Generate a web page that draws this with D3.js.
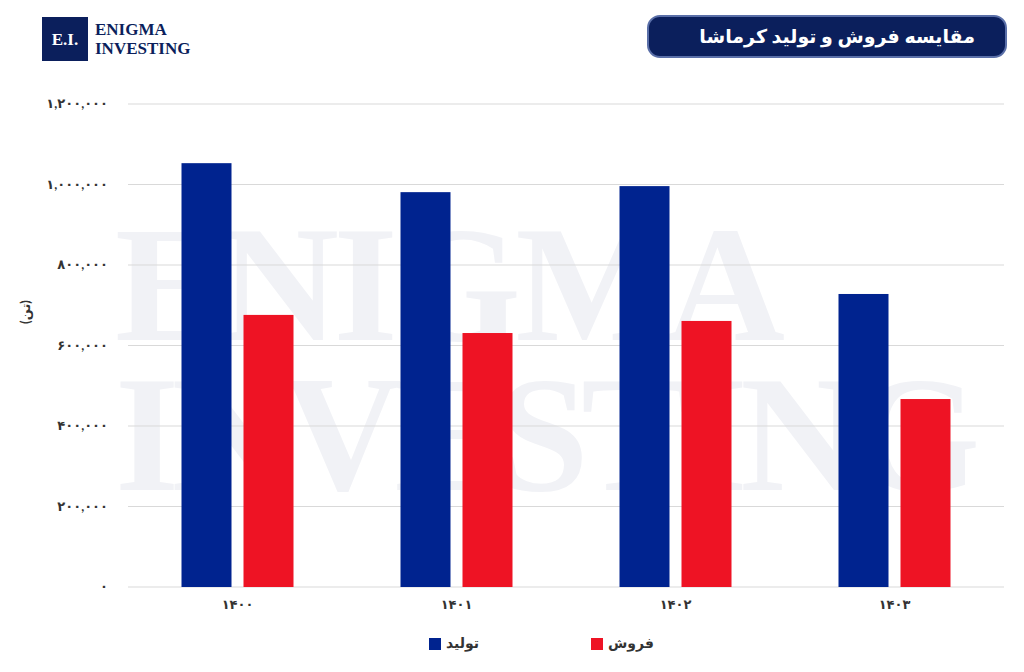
<!DOCTYPE html>
<html><head><meta charset="utf-8">
<script src="https://cdn.jsdelivr.net/npm/d3@7"></script>
<style>body{margin:0;background:#fff}</style>
</head><body>
<script>
const years = ['۱۴۰۰', '۱۴۰۱', '۱۴۰۲', '۱۴۰۳']
const production = [1053000, 981000, 996000, 728000]
const sales = [676000, 631000, 661000, 467000]
const yTicks = [0, 200000, 400000, 600000, 800000, 1000000, 1200000]
const seriesNames = ['تولید', 'فروش']
const colors = ['#00238f', '#ee1324']

const fa = n => d3.format(',')(n).replace(/\d/g, d => '۰۱۲۳۴۵۶۷۸۹'[d])

const W = 1024, H = 672
const svg = d3.select('body').append('svg').attr('width', W).attr('height', H)
  .style('font-family', 'Lato, "DejaVu Sans", sans-serif')

// watermark
const wm = svg.append('g').attr('fill', '#f1f2f6').attr('font-family', '"Liberation Serif", serif').attr('font-weight', 'bold')
wm.append('text').attr('x', 115).attr('y', 340).attr('font-size', 165).attr('textLength', 670).text('ENIGMA')
wm.append('text').attr('x', 115).attr('y', 490).attr('font-size', 165).attr('textLength', 865).text('INVESTING')

const x = d3.scaleBand().domain(years).range([128, 1004])
const y = d3.scaleLinear().domain([0, 1200000]).range([587, 104])

svg.append('g').selectAll('line').data(yTicks).join('line')
  .attr('x1', 128).attr('x2', 1004).attr('y1', d => y(d)).attr('y2', d => y(d))
  .attr('stroke', '#d9d9d9')

svg.append('g').selectAll('text').data(yTicks).join('text')
  .attr('x', 108).attr('y', d => y(d) + 4).attr('text-anchor', 'end')
  .attr('font-size', 13).attr('font-weight', 'bold').attr('fill', '#333').text(fa)

svg.append('text').attr('transform', 'translate(30,312) rotate(-90)').attr('text-anchor', 'middle')
  .attr('font-size', 13).attr('font-weight', 'bold').attr('fill', '#333').text('(تن)')

const bw = 50, gap = 12
const groups = svg.append('g').selectAll('g').data(years).join('g')
  .attr('transform', d => `translate(${x(d) + x.bandwidth() / 2},0)`)
groups.append('rect').attr('x', -bw - gap / 2).attr('width', bw)
  .attr('y', (d, i) => y(production[i])).attr('height', (d, i) => y(0) - y(production[i])).attr('fill', colors[0])
groups.append('rect').attr('x', gap / 2).attr('width', bw)
  .attr('y', (d, i) => y(sales[i])).attr('height', (d, i) => y(0) - y(sales[i])).attr('fill', colors[1])
groups.append('text').attr('y', 609).attr('text-anchor', 'middle').attr('font-size', 13)
  .attr('font-weight', 'bold').attr('fill', '#333').text(d => d)

// legend
const lg = svg.append('g')
seriesNames.forEach((n, i) => {
  const lx = 429 + i * 162
  lg.append('rect').attr('x', lx).attr('y', 638).attr('width', 12).attr('height', 12).attr('fill', colors[i])
  lg.append('text').attr('x', lx + 17).attr('y', 648).attr('text-anchor', 'start').attr('direction', 'ltr')
    .attr('font-size', 14).attr('font-weight', 'bold').attr('fill', '#333').text(n)
})

// title
svg.append('rect').attr('x', 648).attr('y', 16).attr('width', 358).attr('height', 41).attr('rx', 12)
  .attr('fill', '#0b1f5c').attr('stroke', '#5a6fa8').attr('stroke-width', 2)
svg.append('text').attr('x', 975).attr('y', 43).attr('text-anchor', 'end').attr('font-size', 19)
  .attr('font-weight', 'bold').attr('fill', '#fff').text('مقایسه فروش و تولید کرماشا')

// logo
svg.append('rect').attr('x', 42).attr('y', 17).attr('width', 46).attr('height', 44).attr('fill', '#0b1f5c')
svg.append('text').attr('x', 65).attr('y', 45).attr('text-anchor', 'middle').attr('fill', '#fff')
  .attr('font-family', '"Liberation Serif", serif').attr('font-weight', 'bold').attr('font-size', 17).text('E.I.')
svg.append('text').attr('x', 95).attr('y', 35).attr('fill', '#0b1f5c').attr('font-family', '"Liberation Serif", serif')
  .attr('font-weight', 'bold').attr('font-size', 17).text('ENIGMA')
svg.append('text').attr('x', 95).attr('y', 54).attr('fill', '#0b1f5c').attr('font-family', '"Liberation Serif", serif')
  .attr('font-weight', 'bold').attr('font-size', 17).text('INVESTING')
</script>
</body></html>
